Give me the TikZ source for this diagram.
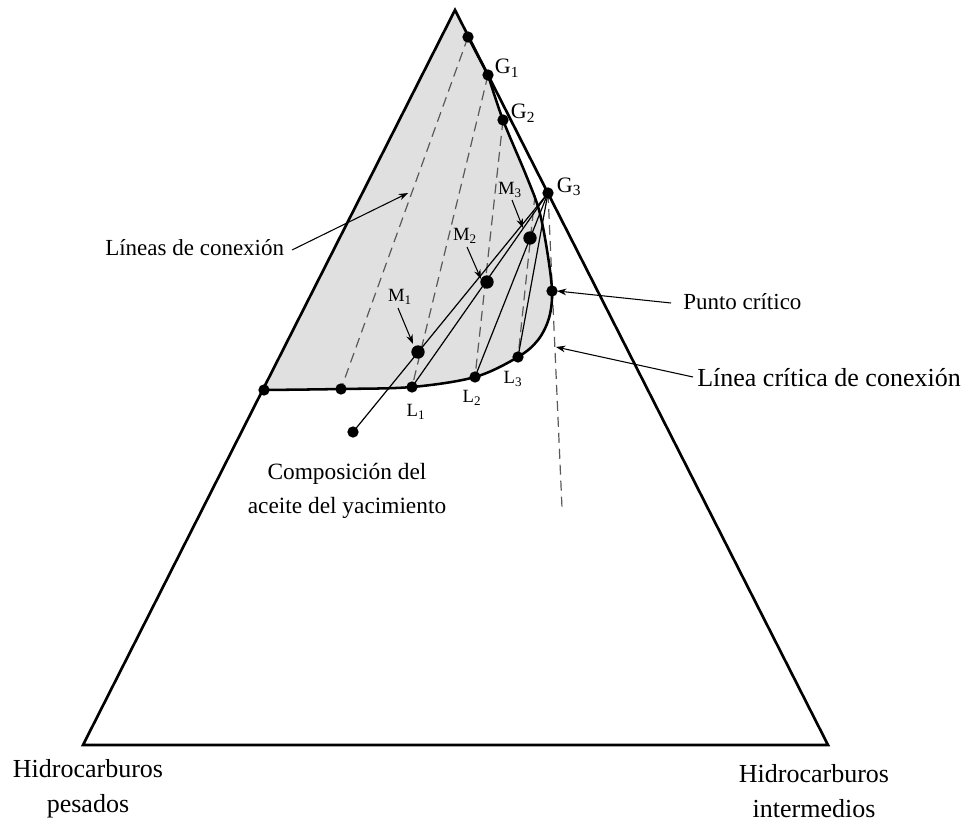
\documentclass[tikz,border=0pt]{standalone}
\usepackage{fontspec}
\setmainfont{Liberation Serif}
\usetikzlibrary{arrows.meta}

\tikzset{
  dot/.style={circle, fill=black, inner sep=0pt, minimum size=8.5pt},
  bigdot/.style={circle, fill=black, inner sep=0pt, minimum size=10pt},
  edge/.style={line width=2pt, line join=miter},
  envline/.style={line width=1.9pt},
  tieline/.style={dashed, dash pattern=on 7.5pt off 4.5pt, line width=0.9pt, draw=black!65},
  solidline/.style={line width=0.9pt},
  pointer/.style={line width=0.8pt, -{Stealth[length=7pt, width=5pt]}},
  lbl/.style={inner sep=0pt, font=\fontsize{17.25pt}{20pt}\selectfont},
  biglbl/.style={inner sep=0pt, align=center, font=\fontsize{19.5pt}{26pt}\selectfont},
  oillbl/.style={inner sep=0pt, align=center, font=\fontsize{17.5pt}{26pt}\selectfont},
  glbl/.style={inner sep=0pt, font=\fontsize{16.5pt}{18pt}\selectfont},
  mlbl/.style={inner sep=0pt, font=\fontsize{14pt}{15pt}\selectfont},
}

\begin{document}
\begin{tikzpicture}[x=0.75pt, y=-0.75pt]
\useasboundingbox (0,0) rectangle (967,824);

% triangle corners
\coordinate (A) at (455,10);
\coordinate (B) at (83,745);
\coordinate (C) at (828,745);

% points on the two-phase envelope
\coordinate (P0) at (468,37);
\coordinate (G1) at (488,75);
\coordinate (G2) at (503,120);
\coordinate (E4) at (535,195);
\coordinate (CP) at (552,291);
\coordinate (L3) at (518,357);
\coordinate (L2) at (475,377);
\coordinate (L1) at (412,387);
\coordinate (T0) at (341,389);
\coordinate (LE) at (264,390);

% other points
\coordinate (G3) at (548,193);
\coordinate (M1) at (418,352);
\coordinate (M2) at (487,282);
\coordinate (M3) at (530,238);
\coordinate (OIL) at (353,432);
\coordinate (CTend) at (562,508);

% two-phase region
\fill[black!12] (LE) -- (A) -- (P0) -- (G1)
  -- plot[smooth, tension=0.55] coordinates {(488,75) (503,120) (526,175) (539,210) (547,250) (552,291) (549,318) (538,340) (518,357) (475,377) (412,387) (341,389) (264,390)}
  -- cycle;

% tie lines
\draw[tieline] (P0) -- (T0);
\draw[tieline] (G1) -- (L1);
\draw[tieline] (G2) -- (L2);
\draw[tieline] (E4) -- (L3);
\draw[tieline] (G3) -- (CTend);

% mixing lines from G3
\draw[solidline] (G3) -- (OIL);
\draw[solidline] (G3) -- (L1);
\draw[solidline] (G3) -- (L2);
\draw[solidline] (G3) -- (L3);

% envelope
\draw[envline] (P0) -- (G1)
  -- plot[smooth, tension=0.55] coordinates {(488,75) (503,120) (526,175) (539,210) (547,250) (552,291) (549,318) (538,340) (518,357) (475,377) (412,387) (341,389) (264,390)};

% ternary triangle
\draw[edge] (A) -- (B) -- (C) -- cycle;

% dots
\foreach \p in {P0,G1,G2,G3,CP,L3,L2,L1,T0,LE,OIL}
  \node[dot] at (\p) {};
\foreach \p in {M1,M2,M3}
  \node[bigdot] at (\p) {};

% point labels
\node[glbl] (lG1) at (507,68) {G\textsubscript{1}};
\node[glbl] (lG2) at (523,113) {G\textsubscript{2}};
\node[glbl] (lG3) at (569,187) {G\textsubscript{3}};
\node[mlbl] (lM1) at (400,297) {M\textsubscript{1}};
\node[mlbl] (lM2) at (465,236) {M\textsubscript{2}};
\node[mlbl] (lM3) at (510,190) {M\textsubscript{3}};
\node[mlbl] (lL1) at (416,412) {L\textsubscript{1}};
\node[mlbl] (lL2) at (472,398) {L\textsubscript{2}};
\node[mlbl] (lL3) at (513,379) {L\textsubscript{3}};

% pointer arrows for M labels
\coordinate (aM1s) at (398,308); \coordinate (aM1e) at (413,344);
\coordinate (aM2s) at (467,247); \coordinate (aM2e) at (481,279);
\coordinate (aM3s) at (512,200); \coordinate (aM3e) at (523,228);
\draw[pointer] (aM1s) -- (aM1e);
\draw[pointer] (aM2s) -- (aM2e);
\draw[pointer] (aM3s) -- (aM3e);

% annotations
\node[lbl, anchor=west] (tie) at (105,248) {Líneas de conexión};
\coordinate (tieS) at (292,250);
\coordinate (tieTip) at (408,193);
\draw[pointer] (tieS) -- (tieTip);

\node[lbl, anchor=west] (crit) at (683,302) {Punto crítico};
\coordinate (critS) at (671,303);
\coordinate (critTip) at (557,291);
\draw[pointer] (critS) -- (critTip);

\node[biglbl, anchor=west] (ctl) at (697,378) {Línea crítica de conexión};
\coordinate (ctlS) at (693,377);
\coordinate (ctlTip) at (556,347);
\draw[pointer] (ctlS) -- (ctlTip);

\node[oillbl] (oil) at (347,491) {Composición del\\aceite del yacimiento};

\node[biglbl] (heavy) at (88,789) {Hidrocarburos\\pesados};
\node[biglbl] (mid) at (814,791) {Hidrocarburos\\intermedios};
\end{tikzpicture}
\end{document}
